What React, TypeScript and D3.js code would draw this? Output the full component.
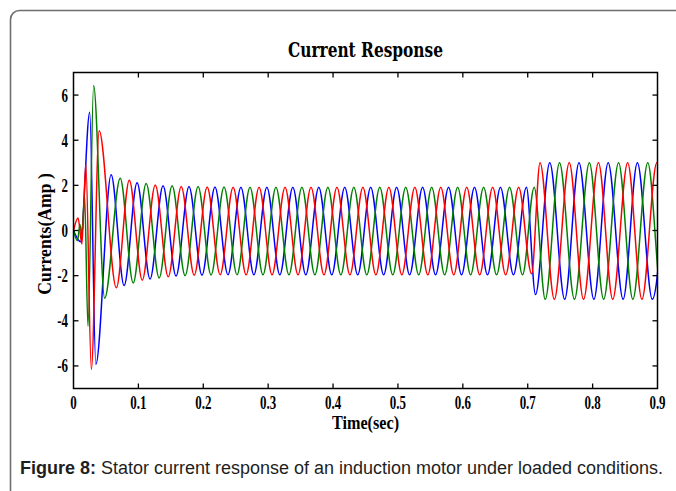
import React from "react";
import * as d3 from "d3";

// tick values
const xTicks = [0, 0.1, 0.2, 0.3, 0.4, 0.5, 0.6, 0.7, 0.8, 0.9];
const xTickLabels = ["0", "0.1", "0.2", "0.3", "0.4", "0.5", "0.6", "0.7", "0.8", "0.9"];
const yTicks = [-6, -4, -2, 0, 2, 4, 6];

// phase currents, [time (sec), current (A)] at the turning points
const phaseBlue: [number, number][] = [
  [0, 0], [0.011, -0.5], [0.025, 5.24], [0.0344, -5.93], [0.058, 2.47], [0.078, -2.44],
  [0.098, 2.12], [0.118, -2.15], [0.138, 1.98], [0.158, -2.02], [0.178, 1.95], [0.198, -1.98],
  [0.218, 1.93], [0.238, -1.96], [0.258, 1.92], [0.278, -1.96], [0.298, 1.92], [0.318, -1.96],
  [0.338, 1.92], [0.358, -1.96], [0.378, 1.92], [0.398, -1.96], [0.418, 1.92], [0.438, -1.96],
  [0.458, 1.92], [0.478, -1.96], [0.498, 1.92], [0.518, -1.96], [0.538, 1.92], [0.558, -1.96],
  [0.578, 1.92], [0.598, -1.96], [0.618, 1.92], [0.638, -1.96], [0.658, 1.92], [0.678, -1.96],
  [0.698, 1.92], [0.712, -2.84], [0.734, 3.0], [0.757, -3.05], [0.779, 3.0], [0.802, -3.05],
  [0.824, 3.0], [0.847, -3.05], [0.869, 3.0], [0.892, -3.05], [0.914, 3.0],
];

const phaseGreen: [number, number][] = [
  [0, 0], [0.006, -0.45], [0.01, 0.25], [0.013, -0.2], [0.017, 1.6], [0.0223, -4.24],
  [0.031, 6.42], [0.048, -3.0], [0.072, 2.32], [0.092, -2.32], [0.112, 2.08], [0.132, -2.1],
  [0.152, 1.98], [0.172, -2.0], [0.192, 1.95], [0.212, -1.97], [0.232, 1.93], [0.252, -1.96],
  [0.272, 1.92], [0.292, -1.96], [0.312, 1.92], [0.332, -1.96], [0.352, 1.92], [0.372, -1.96],
  [0.392, 1.92], [0.412, -1.96], [0.432, 1.92], [0.452, -1.96], [0.472, 1.92], [0.492, -1.96],
  [0.512, 1.92], [0.532, -1.96], [0.552, 1.92], [0.572, -1.96], [0.592, 1.92], [0.612, -1.96],
  [0.632, 1.92], [0.652, -1.96], [0.672, 1.92], [0.692, -1.96], [0.71, 1.92], [0.727, -3.05],
  [0.749, 3.0], [0.772, -3.05], [0.795, 3.0], [0.817, -3.05], [0.84, 3.0], [0.862, -3.05],
  [0.885, 3.0], [0.907, -3.05], [0.93, 3.0],
];

const phaseRed: [number, number][] = [
  [0, 0], [0.007, 0.55], [0.013, -0.6], [0.019, 2.95], [0.0275, -6.15], [0.0395, 4.42],
  [0.066, -2.54], [0.086, 2.23], [0.106, -2.2], [0.126, 2.02], [0.146, -2.05], [0.166, 1.95],
  [0.186, -1.98], [0.206, 1.93], [0.226, -1.96], [0.246, 1.92], [0.266, -1.96], [0.286, 1.92],
  [0.306, -1.96], [0.326, 1.92], [0.346, -1.96], [0.366, 1.92], [0.386, -1.96], [0.406, 1.92],
  [0.426, -1.96], [0.446, 1.92], [0.466, -1.96], [0.486, 1.92], [0.506, -1.96], [0.526, 1.92],
  [0.546, -1.96], [0.566, 1.92], [0.586, -1.96], [0.606, 1.92], [0.626, -1.96], [0.646, 1.92],
  [0.666, -1.96], [0.686, 1.92], [0.706, -1.92], [0.719, 3.0], [0.741, -3.05], [0.764, 3.0],
  [0.786, -3.05], [0.809, 3.0], [0.831, -3.05], [0.854, 3.0], [0.876, -3.05], [0.899, 3.0],
  [0.921, -3.05],
];

const series = [
  { data: phaseBlue, color: "#0000ff" },
  { data: phaseGreen, color: "#008000" },
  { data: phaseRed, color: "#ff0000" },
];

const tickFont = "'Liberation Serif', 'Times New Roman', serif";

const App = () => {
  const left = 73.5, right = 657.5, top = 72.5, bottom = 388.5;
  const x = d3.scaleLinear().domain([0, 0.9]).range([left, right]);
  const y = d3.scaleLinear().domain([-7, 7]).range([bottom, top]);

  const line = d3
    .line<[number, number]>()
    .x((d) => x(d[0]))
    .y((d) => y(d[1]))
    .curve(d3.curveMonotoneX);

  const tickLen = 5;

  return (
    <svg
      width={676}
      height={491}
      style={{ position: "absolute", left: 0, top: 0, background: "#fff" }}
    >
      <defs>
        <clipPath id="plotClip">
          <rect x={left} y={top} width={right - left} height={bottom - top} />
        </clipPath>
      </defs>

      {/* outer figure frame */}
      <rect x={10.5} y={10.5} width={720} height={520} rx={9} fill="none" stroke="#6e6e6e" strokeWidth={1.6} />

      {/* title */}
      <text
        x={365.5}
        y={57}
        textAnchor="middle"
        fontFamily="'DejaVu Serif', serif"
        fontWeight="bold"
        fontSize={20}
        textLength={155}
        lengthAdjust="spacingAndGlyphs"
      >
        Current Response
      </text>

      {/* curves */}
      <g clipPath="url(#plotClip)">
        {series.map((s, i) => (
          <path key={i} d={line(s.data) || ""} fill="none" stroke={s.color} strokeWidth={1.5} />
        ))}
      </g>

      {/* axes box */}
      <rect x={left} y={top} width={right - left} height={bottom - top} fill="none" stroke="#000" strokeWidth={1.5} />

      {/* x ticks */}
      {xTicks.map((t, i) => (
        <g key={"x" + i}>
          {i > 0 && i < xTicks.length - 1 && (
            <>
              <line x1={x(t)} x2={x(t)} y1={bottom} y2={bottom - tickLen} stroke="#000" strokeWidth={1.3} />
              <line x1={x(t)} x2={x(t)} y1={top} y2={top + tickLen} stroke="#000" strokeWidth={1.3} />
            </>
          )}
          <text
            transform={`translate(${x(t)},409) scale(0.72,1)`}
            textAnchor="middle"
            fontFamily={tickFont}
            fontWeight="bold"
            fontSize={18}
          >
            {xTickLabels[i]}
          </text>
        </g>
      ))}

      {/* y ticks */}
      {yTicks.map((t) => (
        <g key={"y" + t}>
          <line x1={left} x2={left + tickLen} y1={y(t)} y2={y(t)} stroke="#000" strokeWidth={1.3} />
          <line x1={right} x2={right - tickLen} y1={y(t)} y2={y(t)} stroke="#000" strokeWidth={1.3} />
          <text
            transform={`translate(68,${y(t) + 6.5}) scale(0.72,1)`}
            textAnchor="end"
            fontFamily={tickFont}
            fontWeight="bold"
            fontSize={18}
          >
            {t}
          </text>
        </g>
      ))}

      {/* axis titles */}
      <text
        transform="translate(365.5,429) scale(0.9,1)"
        textAnchor="middle"
        fontFamily={tickFont}
        fontWeight="bold"
        fontSize={18}
      >
        Time(sec)
      </text>
      <text
        transform="translate(51,234) rotate(-90) scale(0.98,1)"
        textAnchor="middle"
        fontFamily={tickFont}
        fontWeight="bold"
        fontSize={18}
      >
        Currents(Amp )
      </text>

      {/* caption */}
      <text
        x={20}
        y={474}
        fontFamily="'Liberation Sans', Arial, sans-serif"
        fontSize={18}
        fill="#1e1e1e"
        textLength={643}
        lengthAdjust="spacingAndGlyphs"
      >
        <tspan fontWeight="bold">Figure 8:</tspan>
        <tspan> Stator current response of an induction motor under loaded conditions.</tspan>
      </text>
    </svg>
  );
};

export default App;
